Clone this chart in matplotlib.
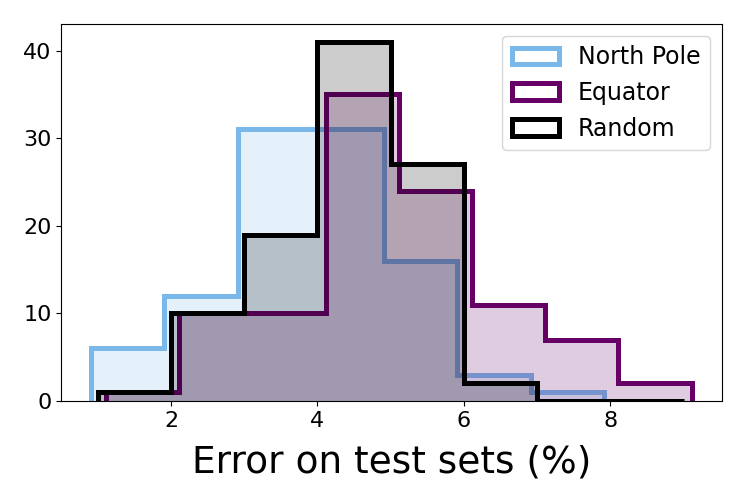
import numpy as np
import matplotlib
matplotlib.use('Agg')
import matplotlib.pyplot as plt

# bin edges and counts
north_edges = [0.91, 1.91, 2.91, 3.91, 4.91, 5.91, 6.91, 7.91]
north_counts = [6, 12, 31, 31, 16, 3, 1]

equator_edges = [1.11, 2.11, 3.11, 4.11, 5.11, 6.11, 7.11, 8.11, 9.11]
equator_counts = [1, 10, 10, 35, 24, 11, 7, 2]

random_edges = [1.0, 2.0, 3.0, 4.0, 5.0, 6.0, 7.0, 8.0, 9.0]
random_counts = [1, 10, 19, 41, 27, 2, 0, 0]

series = [
    ('North Pole', north_edges, north_counts, '#7ab8e9'),
    ('Equator', equator_edges, equator_counts, '#660066'),
    ('Random', random_edges, random_counts, '#000000'),
]

fig = plt.figure(figsize=(7.47, 4.98), dpi=100)
ax = fig.add_subplot(111)
fig.subplots_adjust(left=0.082, right=0.966, top=0.952, bottom=0.195)

for i, (label, edges, counts, color) in enumerate(series):
    edges = np.array(edges)
    centers = (edges[:-1] + edges[1:]) / 2
    # later fills sit over earlier outlines, as in the original
    ax.hist(centers, bins=edges, weights=counts, histtype='stepfilled',
            color=color, alpha=0.2, zorder=1 + 0.2 * i)
    ax.hist(centers, bins=edges, weights=counts, histtype='step',
            color=color, lw=3.6, label=label, zorder=1.1 + 0.2 * i)

ax.set_yticks([0, 10, 20, 30, 40])
ax.set_xticks([2, 4, 6, 8])
ax.tick_params(labelsize=16)
ax.set_xlabel('Error on test sets (%)', fontsize=27, labelpad=10)
ax.legend(loc='upper right', fontsize=17)

fig.savefig('out.png', dpi=100)
